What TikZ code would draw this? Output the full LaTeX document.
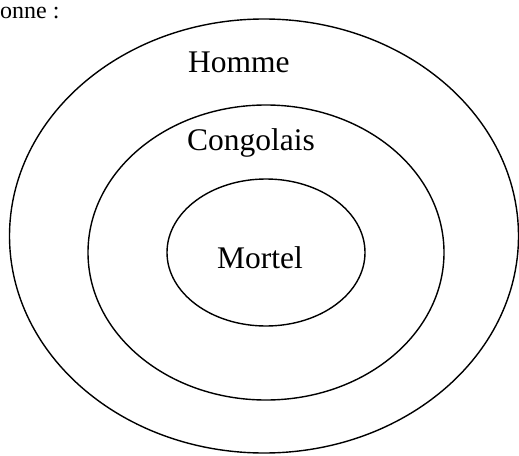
\documentclass[tikz,border=0pt]{standalone}
\usepackage{fontspec}
\setmainfont{Liberation Serif}
\begin{document}
\begin{tikzpicture}[x=1pt,y=-1pt,
  ring/.style={draw=black,line width=1.4pt},
  lbl/.style={anchor=base west,inner sep=0pt,font=\fontsize{31.5}{36}\selectfont}]
\useasboundingbox (0,0) rectangle (519,455);
\draw[ring] (264,236) ellipse [x radius=254.5, y radius=217];
\draw[ring] (266,252.5) ellipse [x radius=178, y radius=147.5];
\draw[ring] (266,252.5) ellipse [x radius=99, y radius=73.5];
\node[lbl] (homme) at (188,72.7) {Homme};
\node[lbl] (congo) at (187,150) {Congolais};
\node[lbl] (mortel) at (217,268) {Mortel};
\node[anchor=base west,inner sep=0pt,font=\fontsize{24}{28}\selectfont] (top) at (0,18) {onne :};
\end{tikzpicture}
\end{document}
